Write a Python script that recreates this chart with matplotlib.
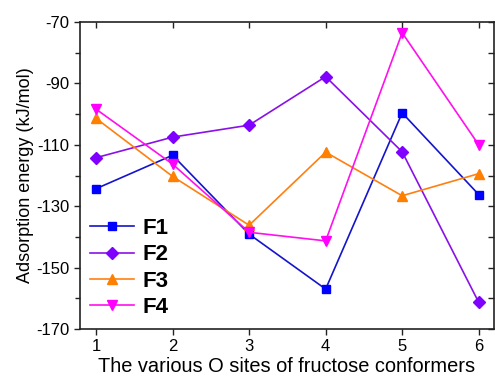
import matplotlib
matplotlib.use("Agg")
import matplotlib.pyplot as plt

plt.rcParams['font.family'] = ['Liberation Sans', 'DejaVu Sans']
plt.rcParams['axes.unicode_minus'] = False

sites = [1, 2, 3, 4, 5, 6]
F1 = [-124.3, -113.4, -139.1, -157.0, -99.6, -126.2]
F2 = [-114.2, -107.5, -103.6, -87.8, -112.3, -161.3]
F3 = [-101.4, -120.3, -136.2, -112.4, -126.6, -119.4]
F4 = [-98.4, -116.3, -138.5, -141.3, -73.5, -110.0]
labels = ['F1', 'F2', 'F3', 'F4']
yticks_major = [-170, -150, -130, -110, -90, -70]
yticks_minor = [-160, -140, -120, -100, -80]

series = [F1, F2, F3, F4]
line_colors = ['#1414cc', '#8a10e8', '#ff7f10', '#ff10ee']
marker_colors = ['#0000ff', '#8000ff', '#ff7f00', '#ff00ff']
markers = ['s', 'D', '^', 'v']
msizes = [6, 6.5, 7.5, 7.5]

fig = plt.figure(figsize=(4.95, 3.84), dpi=100)
ax = fig.add_axes([80/495, 55/384, 414/495, 307/384])

for ys, lc, mc, m, ms, lab in zip(series, line_colors, marker_colors, markers, msizes, labels):
    ax.plot(sites, ys, color=lc, lw=1.2, marker=m, markersize=ms,
            markerfacecolor=mc, markeredgecolor=mc, label=lab)

ax.set_xlim(0.79, 6.2)
ax.set_ylim(-170, -70)
ax.set_xticks(sites)
ax.set_yticks(yticks_major)
ax.set_yticks(yticks_minor, minor=True)

tc = '#222222'
ax.tick_params(axis='both', which='both', labelsize=12, width=1, color=tc,
               direction='out', pad=3)
ax.tick_params(axis='both', which='major', length=4.5)
ax.tick_params(axis='y', which='minor', length=3.5)

# inward ticks on top and right
top = ax.secondary_xaxis('top')
top.set_xticks(sites)
top.tick_params(direction='in', length=4.5, width=1, color=tc, labeltop=False)
right = ax.secondary_yaxis('right')
right.set_yticks(yticks_major + yticks_minor)
right.tick_params(direction='in', length=4.5, width=1, color=tc, labelright=False)
for a in (top, right):
    for s in a.spines.values():
        s.set_visible(False)

for s in ax.spines.values():
    s.set_linewidth(1.2)
    s.set_color(tc)

ax.set_xlabel('The various O sites of fructose conformers', fontsize=14.4, labelpad=2)
ax.set_ylabel('Adsorption energy (kJ/mol)', fontsize=13, labelpad=2)

leg = ax.legend(loc='upper left', bbox_to_anchor=(10/414, 1 - 196/307), frameon=False,
                prop={'weight': 'bold', 'size': 16}, handlelength=2.0,
                handletextpad=0.36, labelspacing=0.24, borderaxespad=0, borderpad=0)

fig.savefig('out.png', dpi=100)
